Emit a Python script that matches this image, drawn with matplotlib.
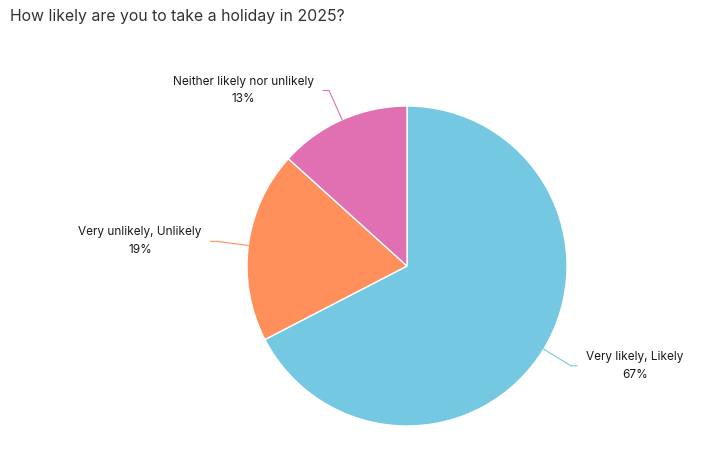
import numpy as np
import matplotlib
matplotlib.use('Agg')
from matplotlib import pyplot as plt

plt.rcParams['font.family'] = ['Inter', 'DejaVu Sans']

# data
labels = ['Very likely, Likely', 'Very unlikely, Unlikely', 'Neither likely nor unlikely']
values = [67.4, 19.3, 13.3]
pct_text = ['67%', '19%', '13%']
colors = ['#75C8E1', '#FF8F5B', '#E070B2']

W, H = 705, 469
fig = plt.figure(figsize=(W / 100, H / 100), dpi=100)
fig.text(10 / W, 1 - 17 / H, 'How likely are you to take a holiday in 2025?',
         fontsize=11.4, color='#333333', va='center', ha='left')

# pie box in pixels: centre (407,266), radius 160
ax = fig.add_axes([247 / W, (H - 426) / H, 320 / W, 320 / H])
wedges, _ = ax.pie(values, colors=colors, startangle=90, counterclock=False,
                   radius=1, wedgeprops=dict(edgecolor='white', linewidth=1))
ax.set_xlim(-1, 1)
ax.set_ylim(-1, 1)
ax.axis('off')

px = 2 / 320  # one pixel in data units
for w, lab, pt, c in zip(wedges, labels, pct_text, colors):
    ang = np.deg2rad((w.theta1 + w.theta2) / 2)
    x0, y0 = np.cos(ang), np.sin(ang)
    x1, y1 = 1.2 * x0, 1.2 * y0
    side = 1 if x0 > 0 else -1
    x2 = x1 + side * 6 * px
    ax.plot([x0, x1, x2], [y0, y1, y1], color=c, lw=0.8, clip_on=False)
    ax.text(x2 + side * 9 * px, y1, lab + '\n' + pt, fontsize=8.5, color='#1a1a1a',
            ha='left' if side > 0 else 'right', va='center',
            multialignment='center', linespacing=1.65)

fig.savefig('out.png', dpi=100)
